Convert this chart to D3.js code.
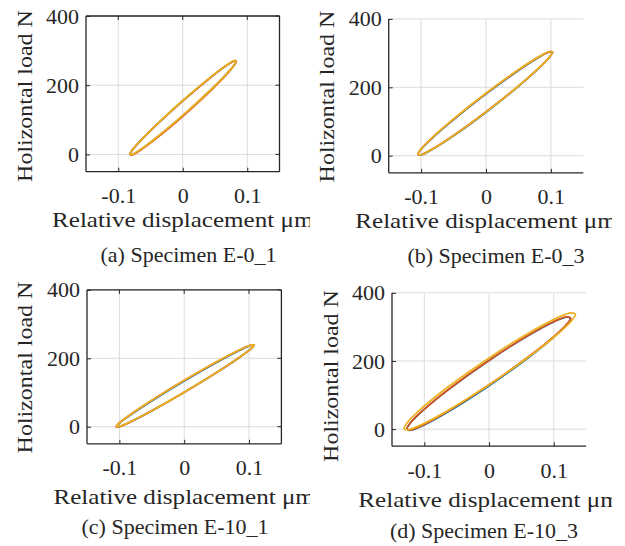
<!DOCTYPE html>
<html>
<head>
<meta charset="utf-8">
<script src="https://cdn.jsdelivr.net/npm/d3@7"></script>
<style>
  html, body { margin: 0; padding: 0; background: #fff; }
  svg { display: block; }
  text { font-family: "Liberation Serif", "Times New Roman", serif; fill: #262626; }
</style>
</head>
<body>
<svg id="fig" width="625" height="546"></svg>
<script>
// ---- shared axis content ----
const xTicks = [-0.1, 0, 0.1];
const xTickLabels = ["-0.1", "0", "0.1"];
const yTicks = [0, 200, 400];
const yTickLabels = ["0", "200", "400"];
const xDomain = [-0.15, 0.15];
const yDomain = [-50, 400];
const xLabel = "Relative displacement μm";
const yLabel = "Holizontal load N";
const captions = ["(a) Specimen E-0_1", "(b) Specimen E-0_3", "(c) Specimen E-10_1", "(d) Specimen E-10_3"];
const cycleColors = ["#0072BD", "#D95319", "#EDB120"];

// ---- hysteresis loops: displacement samples, loading (up) and unloading (lo) branch loads ----
// (a) E-0_1
const dispA = [-0.082, -0.0779, -0.0655, -0.0408, 0.0005, 0.0418, 0.0665, 0.0789, 0.083];
const upA1 = [0, 13.3, 39.5, 85.5, 155.8, 220.5, 255.5, 269.8, 270];
const loA1 = [0, -0.1, 13.8, 48.4, 113, 183.4, 229.8, 256.4, 270];
const upA2 = [0, 13.2, 39.3, 85.3, 155.5, 220.3, 255.3, 269.7, 270];
const loA2 = [0, -1.0, 12.2, 46.2, 110.5, 181.2, 228.2, 255.6, 270];
const upA3 = [0, 13.5, 39.9, 86.1, 156.5, 221.1, 255.9, 270.0, 270];
const loA3 = [0, 0.1, 14.1, 48.9, 113.5, 183.9, 230.1, 256.6, 270];

// (b) E-0_3
const dispB = [-0.105, -0.0998, -0.0843, -0.0531, -0.0013, 0.0506, 0.0817, 0.0973, 0.1025];
const upB1 = [4, 19.3, 48.9, 100.5, 178.5, 250, 288.1, 303.3, 303];
const loB1 = [4, 2.6, 16.8, 54.1, 125, 203.6, 256, 286.6, 303];
const upB2 = [4, 19.8, 49.8, 101.7, 180, 251.2, 289, 303.8, 303];
const loB2 = [4, 3.1, 17.7, 55.4, 126.5, 204.9, 256.9, 287.1, 303];
const upB3 = [4, 20.1, 50.4, 102.6, 181, 252.1, 289.6, 304.1, 303];
const loB3 = [4, 2.9, 17.4, 54.9, 126, 204.4, 256.6, 286.9, 303];

// (c) E-10_1
const dispC = [-0.105, -0.0997, -0.0837, -0.0518, 0.0015, 0.0548, 0.0867, 0.1027, 0.108];
const upC1 = [0, 10.8, 33.2, 73.15, 135, 192.65, 224.4, 237.8, 239];
const loC1 = [0, 0.5, 13.5, 44.8, 102.2, 164.3, 204.7, 227.5, 239];
const upC2 = [0, 11.5, 34.4, 74.95, 137, 194.45, 225.6, 238.5, 239];
const loC2 = [0, 0.5, 13.4, 44.55, 102, 164.05, 204.6, 227.5, 239];
const upC3 = [0, 11.6, 34.7, 75.35, 137.5, 194.85, 225.9, 238.6, 239];
const loC3 = [0, 0.7, 13.7, 45.05, 102.5, 164.55, 204.9, 227.7, 239];

// (d) E-10_3
const dispD12 = [-0.127, -0.1207, -0.1017, -0.0638, -0.0005, 0.0628, 0.1007, 0.1197, 0.126];
const upD1 = [0, 20.1, 55.6, 114.55, 201, 277.05, 315.6, 328.9, 325];
const loD1 = [0, -3.1, 10.9, 50.05, 126.5, 212.55, 270.9, 305.7, 325];
const upD2 = [0, 20.3, 55.9, 115.05, 201.5, 277.55, 315.9, 329.1, 325];
const loD2 = [0, -2.2, 12.7, 52.65, 129.5, 215.15, 272.7, 306.6, 325];
const dispD3 = [-0.1313, -0.1247, -0.1048, -0.0651, 0.0011, 0.0673, 0.107, 0.1269, 0.1335];
const upD3 = [2, 23.2, 60.1, 121.25, 210.5, 288.75, 328.1, 341.4, 337];
const loD3 = [2, -1.5, 12.7, 52.85, 131.5, 220.35, 280.7, 316.7, 337];

const panelSeries = [
  [[dispA, upA1, loA1], [dispA, upA2, loA2], [dispA, upA3, loA3]],
  [[dispB, upB1, loB1], [dispB, upB2, loB2], [dispB, upB3, loB3]],
  [[dispC, upC1, loC1], [dispC, upC2, loC2], [dispC, upC3, loC3]],
  [[dispD12, upD1, loD1], [dispD12, upD2, loD2], [dispD3, upD3, loD3]]
];

// ---- layout of the four sub-figures ----
const layout = [
  { left: 86,    top: 16,    w: 193.5, h: 155.7, box: true,  clip: [0, 310],
    xlab: 227, ylabX: 31.5, ylabY: 96,  cap: [188.5, 262] },
  { left: 388.7, top: 18.9,  w: 194.6, h: 153.9, box: false, clip: [310, 612],
    xlab: 228, ylabX: 334,  ylabY: 96.5, cap: [496, 263] },
  { left: 87,    top: 289.9, w: 194.4, h: 153.9, box: true,  clip: [0, 310],
    xlab: 504, ylabX: 31.7, ylabY: 367.5, cap: [175, 534] },
  { left: 392,   top: 292.8, w: 194.1, h: 153.4, box: false, clip: [310, 612],
    xlab: 507, ylabX: 338,  ylabY: 376, cap: [484, 538] }
];

const svg = d3.select("#fig");
const defs = svg.append("defs");
const tickLen = 4;

// widen glyphs horizontally by a factor, keeping the anchor
function stretch(sel, factor) {
  sel.each(function () {
    const len = this.getComputedTextLength();
    d3.select(this).attr("textLength", len * factor).attr("lengthAdjust", "spacingAndGlyphs");
  });
}

layout.forEach((L, i) => {
  defs.append("clipPath").attr("id", "clip" + i)
    .append("rect").attr("x", L.clip[0]).attr("y", 0)
    .attr("width", L.clip[1] - L.clip[0]).attr("height", 546);

  const outer = svg.append("g").attr("clip-path", `url(#clip${i})`);
  const g = outer.append("g").attr("transform", `translate(${L.left},${L.top})`);

  const x = d3.scaleLinear().domain(xDomain).range([0, L.w]);
  const y = d3.scaleLinear().domain(yDomain).range([L.h, 0]);

  // grid
  g.append("g").selectAll("line").data(xTicks).join("line")
    .attr("x1", d => x(d)).attr("x2", d => x(d)).attr("y1", 0).attr("y2", L.h)
    .attr("stroke", "#dcdcdc").attr("stroke-width", 1);
  g.append("g").selectAll("line").data(yTicks).join("line")
    .attr("x1", 0).attr("x2", L.w).attr("y1", d => y(d)).attr("y2", d => y(d))
    .attr("stroke", "#dcdcdc").attr("stroke-width", 1);

  // loops
  const line = d3.line().x(d => x(d[0])).y(d => y(d[1])).curve(d3.curveCatmullRomClosed.alpha(0.5));
  panelSeries[i].forEach(([xs, up, lo], k) => {
    const pts = up.map((v, j) => [xs[j], v]);
    for (let j = lo.length - 2; j >= 1; j--) pts.push([xs[j], lo[j]]);
    g.append("path").datum(pts).attr("d", line)
      .attr("fill", "none").attr("stroke", cycleColors[k]).attr("stroke-width", 1.8)
      .attr("stroke-linejoin", "round");
  });

  // axes (ticks point inward)
  const xAxis = d3.axisBottom(x).tickValues(xTicks).tickFormat((d, j) => xTickLabels[j])
    .tickSizeInner(-tickLen).tickSizeOuter(0).tickPadding(16);
  const yAxis = d3.axisLeft(y).tickValues(yTicks).tickFormat((d, j) => yTickLabels[j])
    .tickSizeInner(-tickLen).tickSizeOuter(0).tickPadding(7);

  const gx = g.append("g").attr("transform", `translate(0,${L.h})`).call(xAxis);
  const gy = g.append("g").call(yAxis);
  [gx, gy].forEach(a => {
    a.attr("font-size", null).attr("font-family", null);
    a.select(".domain").remove();
    a.selectAll(".tick line").attr("stroke", "#262626").attr("stroke-width", 1);
    a.selectAll("text").attr("font-size", 22).attr("fill", "#262626");
  });

  // axis lines
  const ax = g.append("g").attr("stroke", "#262626").attr("stroke-width", 1.3).attr("fill", "none");
  ax.append("line").attr("x1", 0).attr("x2", 0).attr("y1", 0).attr("y2", L.h);
  ax.append("line").attr("x1", 0).attr("x2", L.w).attr("y1", L.h).attr("y2", L.h);
  if (L.box) {
    ax.append("line").attr("x1", L.w).attr("x2", L.w).attr("y1", 0).attr("y2", L.h);
    ax.append("line").attr("x1", 0).attr("x2", L.w).attr("y1", 0).attr("y2", 0);
    // mirrored ticks on the right and top edges
    g.append("g").selectAll("line").data(yTicks).join("line")
      .attr("x1", L.w).attr("x2", L.w - tickLen).attr("y1", d => y(d)).attr("y2", d => y(d))
      .attr("stroke", "#262626");
    g.append("g").selectAll("line").data(xTicks).join("line")
      .attr("x1", d => x(d)).attr("x2", d => x(d)).attr("y1", 0).attr("y2", tickLen)
      .attr("stroke", "#262626");
  }

  // axis titles
  const xt = outer.append("text").attr("x", L.left + L.w / 2).attr("y", L.xlab)
    .attr("text-anchor", "middle").attr("font-size", 22).text(xLabel);
  stretch(xt, 1.14);
  const yt = outer.append("text")
    .attr("transform", `translate(${L.ylabX},${L.ylabY}) rotate(-90)`)
    .attr("text-anchor", "middle").attr("font-size", 22).text(yLabel);
  stretch(yt, 1.09);

  // caption
  svg.append("text").attr("x", L.cap[0]).attr("y", L.cap[1])
    .attr("text-anchor", "middle").attr("font-size", 22).text(captions[i]);
});
</script>
</body>
</html>
